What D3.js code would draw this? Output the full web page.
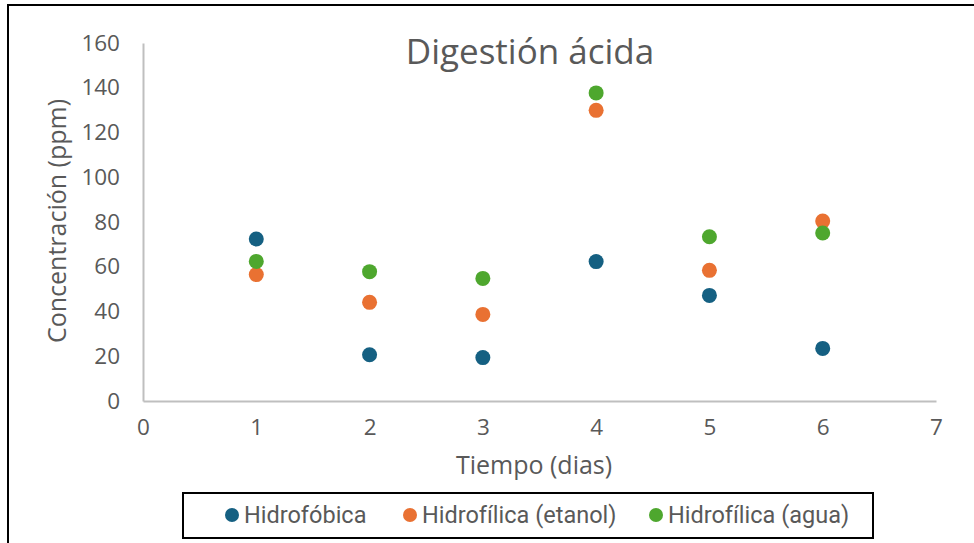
<!DOCTYPE html>
<html>
<head>
<meta charset="utf-8">
<script src="https://cdn.jsdelivr.net/npm/d3@7"></script>
<style>
  body { margin: 0; background: #fff; }
  text { font-family: "Open Sans", "Liberation Sans", sans-serif; fill: #595959; }
  .legend text { font-family: "Roboto", sans-serif; }
</style>
</head>
<body>
<div id="chart"></div>
<script>
// data
const dias = [1, 2, 3, 4, 5, 6];
const hidrofobica = [72.4, 20.7, 19.4, 62.3, 47.2, 23.5];
const hidrofilicaEtanol = [56.5, 44.1, 38.7, 129.9, 58.4, 80.4];
const hidrofilicaAgua = [62.4, 57.8, 54.8, 137.7, 73.4, 75.1];
const seriesNames = ["Hidrofóbica", "Hidrofílica (etanol)", "Hidrofílica (agua)"];
const seriesColors = ["#156082", "#E97132", "#4EA72E"];
const xTicks = [0, 1, 2, 3, 4, 5, 6, 7];
const yTicks = [0, 20, 40, 60, 80, 100, 120, 140, 160];

const width = 974, height = 543;

let svg = d3.select("#chart")
    .append("svg")
    .attr("width", width)
    .attr("height", height);

// outer chart border (runs off the right/bottom edge)
svg.append("rect")
    .attr("x", 8).attr("y", 5)
    .attr("width", width + 20).attr("height", height + 20)
    .attr("fill", "white")
    .attr("stroke", "#000")
    .attr("stroke-width", 2);

let x = d3.scaleLinear().domain([0, 7]).range([143, 936]);
let y = d3.scaleLinear().domain([0, 160]).range([401, 43]);

let xAxis = svg.append("g")
    .attr("transform", `translate(0, ${y(0)})`)
    .call(d3.axisBottom(x).tickValues(xTicks).tickSize(0).tickPadding(18).tickFormat(d3.format("d")));

let yAxis = svg.append("g")
    .attr("transform", `translate(${x(0)}, 0)`)
    .call(d3.axisLeft(y).tickValues(yTicks).tickSize(0).tickPadding(23).tickFormat(d3.format("d")));

[xAxis, yAxis].forEach(a => {
    a.select(".domain").attr("stroke", "#BFBFBF").attr("stroke-width", 2);
    a.selectAll("text").style("font-size", "22.5px").attr("fill", "#595959");
});

svg.append("text")
    .attr("x", 530).attr("y", 64)
    .style("text-anchor", "middle")
    .style("font-size", "35px")
    .text("Digestión ácida");

svg.append("text")
    .attr("x", 534).attr("y", 474)
    .style("text-anchor", "middle")
    .style("font-size", "25px")
    .text("Tiempo (dias)");

svg.append("text")
    .attr("transform", `translate(66, 221) rotate(-90)`)
    .style("text-anchor", "middle")
    .style("font-size", "25px")
    .text("Concentración (ppm)");

let allSeries = [hidrofobica, hidrofilicaEtanol, hidrofilicaAgua];

allSeries.forEach((vals, i) => {
    svg.append("g").selectAll("circle")
        .data(vals)
        .enter()
        .append("circle")
        .attr("cx", (d, j) => x(dias[j]))
        .attr("cy", d => y(d))
        .attr("r", 7.5)
        .attr("fill", seriesColors[i]);
});

// legend
let legend = svg.append("g").attr("class", "legend");
legend.append("rect")
    .attr("x", 183).attr("y", 493)
    .attr("width", 690).attr("height", 45)
    .attr("fill", "white")
    .attr("stroke", "#000")
    .attr("stroke-width", 2);

const legendX = [232, 410, 656];
seriesNames.forEach((name, i) => {
    legend.append("circle")
        .attr("cx", legendX[i]).attr("cy", 515)
        .attr("r", 7)
        .attr("fill", seriesColors[i]);
    legend.append("text")
        .attr("x", legendX[i] + 12).attr("y", 523)
        .style("font-size", "23.5px")
        .text(name);
});
</script>
</body>
</html>
